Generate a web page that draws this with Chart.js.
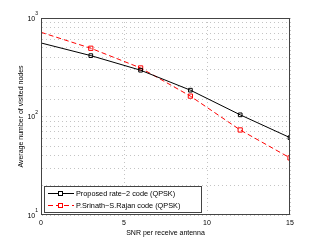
<!DOCTYPE html>
<html>
<head>
<meta charset="utf-8">
<script src="https://cdn.jsdelivr.net/npm/chart.js@4/dist/chart.umd.min.js"></script>
<style>
  html, body { margin: 0; padding: 0; background: #fff; }
  #wrap { width: 321px; height: 242px; position: relative; }
</style>
</head>
<body>
<div id="wrap"><canvas id="snrChart" width="321" height="242"></canvas></div>
<script>
// values
var snr = [0, 3, 6, 9, 12, 15];
var proposedNodes = [558, 415, 295, 185, 104, 61];
var srinathNodes = [716, 493, 311, 161, 73, 38];
var xTicks = [0, 5, 10, 15];
var yDecades = [10, 100, 1000];
var seriesNames = ["Proposed rate\u22122 code (QPSK)", "P.Srinath\u2212S.Rajan code (QPSK)"];

var FONT = "'Liberation Sans', Arial, sans-serif";

function toPoints(xs, ys) {
    var pts = [];
    for (var i = 0; i < xs.length; i++) pts.push({ x: xs[i], y: ys[i] });
    return pts;
}

// first point has no marker (lines start at 0 dB)
var markerSizes = snr.map(function (v) { return v === 0 ? 0 : 2.6; });

// matlab-like frame, decade labels and inside legend
var matlabLook = {
    id: 'matlabLook',
    afterDraw: function (chart) {
        var c = chart.ctx, a = chart.chartArea;
        var ys = chart.scales.y;
        c.save();
        c.strokeStyle = '#444';
        c.lineWidth = 1;
        c.strokeRect(a.left + 0.5, a.top + 0.5, a.right - a.left - 1, a.bottom - a.top - 1);

        // y tick labels 10^k
        c.fillStyle = '#000';
        c.textBaseline = 'middle';
        yDecades.forEach(function (v) {
            var py = ys.getPixelForValue(v);
            var exp = String(Math.round(Math.log10(v)));
            c.font = '5px ' + FONT;
            var ew = c.measureText(exp).width;
            c.textAlign = 'left';
            c.fillText(exp, a.left - 3 - ew, py - 4);
            c.font = '7px ' + FONT;
            c.textAlign = 'right';
            c.fillText('10', a.left - 3 - ew, py + 1);
        });

        // legend box
        var lx = 44, ly = 186, lw = 157, lh = 26;
        c.fillStyle = '#fff';
        c.fillRect(lx, ly, lw, lh);
        c.strokeStyle = '#444';
        c.strokeRect(lx + 0.5, ly + 0.5, lw, lh);
        chart.data.datasets.forEach(function (ds, i) {
            var yy = ly + 7 + i * 12;
            c.strokeStyle = ds.borderColor;
            c.lineWidth = 1;
            c.setLineDash(ds.borderDash || []);
            c.beginPath();
            c.moveTo(lx + 4, yy + 0.5);
            c.lineTo(lx + 30, yy + 0.5);
            c.stroke();
            c.setLineDash([]);
            c.fillStyle = '#fff';
            c.fillRect(lx + 14, yy - 2, 5, 5);
            c.strokeRect(lx + 14.5, yy - 1.5, 4, 4);
            c.fillStyle = '#000';
            c.font = '7.3px ' + FONT;
            c.textAlign = 'left';
            c.textBaseline = 'middle';
            c.fillText(ds.label, lx + 32, yy + 1);
        });
        c.restore();
    }
};

var ctx = document.getElementById("snrChart");
var chart = new Chart(ctx, {
    type: 'line',
    data: {
        datasets: [{
            label: seriesNames[0],
            data: toPoints(snr, proposedNodes),
            borderColor: '#000',
            backgroundColor: '#fff',
            borderWidth: 1,
            pointStyle: 'rect',
            pointRadius: markerSizes,
            pointBorderWidth: 1,
            pointBorderColor: '#000',
            pointBackgroundColor: 'rgba(0,0,0,0)',
            tension: 0
        }, {
            label: seriesNames[1],
            data: toPoints(snr, srinathNodes),
            borderColor: '#ff0000',
            backgroundColor: '#fff',
            borderWidth: 1,
            borderDash: [5, 3],
            pointStyle: 'rect',
            pointRadius: markerSizes.map(function (r) { return r ? 3 : 0; }),
            pointBorderWidth: 1,
            pointBorderColor: '#ff0000',
            pointBackgroundColor: 'rgba(0,0,0,0)',
            tension: 0
        }]
    },
    options: {
        responsive: false,
        animation: false,
        layout: { padding: { left: 17, right: 31, top: 18, bottom: 5 } },
        plugins: { legend: { display: false }, tooltip: { enabled: false } },
        scales: {
            x: {
                type: 'linear',
                min: 0,
                max: 15,
                afterBuildTicks: function (s) { s.ticks = xTicks.map(function (v) { return { value: v }; }); },
                afterFit: function (s) { s.height = 22; },
                grid: { color: '#c4c4c4', drawTicks: false, tickLength: 0 },
                border: { display: true, color: 'rgba(0,0,0,0)', dash: [1, 3] },
                ticks: { color: '#000', font: { family: FONT, size: 7 }, padding: 4, maxRotation: 0 },
                title: { display: true, text: 'SNR per receive antenna', color: '#000', font: { family: FONT, size: 7 }, padding: { top: 0, bottom: 0 } }
            },
            y: {
                type: 'logarithmic',
                min: 10,
                max: 1000,
                afterFit: function (s) { s.width = 24; },
                grid: { color: '#c4c4c4', drawTicks: false, tickLength: 0 },
                border: { display: true, color: 'rgba(0,0,0,0)', dash: [1, 3] },
                ticks: { display: false },
                title: { display: true, text: 'Average number of visited nodes', color: '#000', font: { family: FONT, size: 7 }, padding: { top: 0, bottom: 0 } }
            }
        }
    },
    plugins: [matlabLook]
});
</script>
</body>
</html>
